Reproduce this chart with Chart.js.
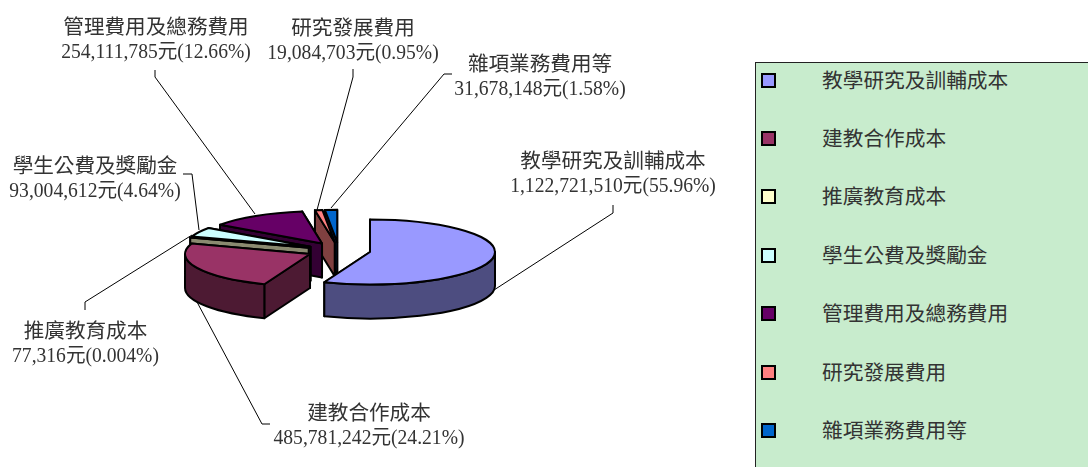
<!DOCTYPE html>
<html lang="zh-Hant">
<head>
<meta charset="utf-8">
<title>成本結構</title>
<script src="https://cdn.jsdelivr.net/npm/chart.js@4/dist/chart.umd.min.js"></script>
<style>
    html, body { margin: 0; padding: 0; background: #fff; overflow: hidden; }
    #stage { position: relative; width: 1088px; height: 467px; overflow: hidden; }
    #pie { position: absolute; left: 0; top: 0; }
    #legend {
        position: absolute; left: 755px; top: 62px; width: 400px; height: 460px;
        background: #c8eccd; border: 1px solid #222; box-sizing: border-box;
    }
    .legend-row { position: absolute; left: 0; height: 28px; line-height: 28px; white-space: nowrap; }
    .legend-box {
        position: absolute; left: 5px; top: 7px; width: 15px; height: 15px;
        border: 2px solid #000; box-sizing: border-box;
    }
    .legend-text {
        position: absolute; left: 66px; top: -2px;
        font: 20.7px "Noto Sans CJK TC", sans-serif; color: #333;
    }
</style>
</head>
<body>
<div id="stage">
    <canvas id="pie" width="1088" height="467"></canvas>
    <div id="legend"></div>
</div>
<script>
const categories = ['教學研究及訓輔成本', '建教合作成本', '推廣教育成本', '學生公費及獎勵金', '管理費用及總務費用', '研究發展費用', '雜項業務費用等'];
const amounts = [1122721510, 485781242, 77316, 93004612, 254111785, 19084703, 31678148];
const amountLabels = ['1,122,721,510元(55.96%)', '485,781,242元(24.21%)', '77,316元(0.004%)', '93,004,612元(4.64%)', '254,111,785元(12.66%)', '19,084,703元(0.95%)', '31,678,148元(1.58%)'];
const topColors = ['#9999ff', '#993366', '#ffffcc', '#ccffff', '#660066', '#ff8080', '#0066cc'];
const wallColors = ['#4d4d80', '#4d1a33', '#8a8a70', '#668080', '#330033', '#804040', '#003366'];

// Where each label sits and how its leader runs to the slice
const labelCenters = [[613, 160], [369, 412], [85.5, 330], [95, 165], [156, 26], [353, 27], [540, 63]];
const leaders = [
    [[494, 290], [613, 213], [613, 205]],
    [[197, 302], [262, 424], [270, 424]],
    [[192, 235], [85, 302], [85, 310]],
    [[183, 174], [192, 174], [199, 230]],
    [[155, 70], [155, 77], [255, 214]],
    [[353, 69], [353, 77], [317, 210]],
    [[452, 74], [444, 74], [331, 208]]
];

const TILT = 0.26;
const DEPTH = 34;

function drawSlice(ctx, arc, top, wall, centerY) {
    const { startAngle, endAngle, outerRadius, x, y } = arc;
    const mid = (startAngle + endAngle) / 2;
    const pull = arc.options.offset / 4;
    const ax = x + Math.cos(mid) * pull;
    const ay = centerY + Math.sin(mid) * pull * TILT;
    const ry = outerRadius * TILT;
    const rimX = a => ax + Math.cos(a) * outerRadius;
    const rimY = a => ay + Math.sin(a) * ry;

    const finish = (fill) => {
        ctx.closePath();
        ctx.fillStyle = fill;
        ctx.fill();
        ctx.stroke();
    };

    // The two cut faces first, the rim and top cover what should not show
    [endAngle, startAngle].forEach(a => {
        ctx.beginPath();
        ctx.moveTo(ax, ay);
        ctx.lineTo(rimX(a), rimY(a));
        ctx.lineTo(rimX(a), rimY(a) + DEPTH);
        ctx.lineTo(ax, ay + DEPTH);
        finish(wall);
    });

    // Outer wall, only the front half of the ellipse
    const a0 = Math.max(startAngle, 0);
    const a1 = Math.min(endAngle, Math.PI);
    if (a1 > a0) {
        ctx.beginPath();
        ctx.ellipse(ax, ay, outerRadius, ry, 0, a0, a1);
        ctx.ellipse(ax, ay + DEPTH, outerRadius, ry, 0, a1, a0, true);
        finish(wall);
    }

    ctx.beginPath();
    ctx.moveTo(ax, ay);
    ctx.ellipse(ax, ay, outerRadius, ry, 0, startAngle, endAngle);
    finish(top);
}

const pie3d = {
    id: 'pie3d',
    beforeDatasetsDraw(chart) {
        const ctx = chart.ctx;
        const arcs = chart.getDatasetMeta(0).data;

        ctx.save();
        // Leaders go under the slices
        ctx.strokeStyle = '#000';
        ctx.lineWidth = 1;
        leaders.forEach(pts => {
            ctx.beginPath();
            pts.forEach((p, i) => i ? ctx.lineTo(p[0], p[1]) : ctx.moveTo(p[0], p[1]));
            ctx.stroke();
        });

        // Back to front: last slice first
        ctx.lineWidth = 2;
        ctx.lineJoin = 'round';
        for (let i = arcs.length - 1; i >= 0; i--) {
            drawSlice(ctx, arcs[i], topColors[i], wallColors[i], arcs[i].y);
        }

        ctx.fillStyle = '#333';
        ctx.textAlign = 'center';
        ctx.textBaseline = 'middle';
        categories.forEach((name, i) => {
            const [cx, cy] = labelCenters[i];
            ctx.font = '20.6px "Noto Sans CJK TC", sans-serif';
            ctx.fillText(name, cx, cy);
            // Amounts are a bit narrow in the reference, squeeze them
            ctx.save();
            ctx.translate(cx, cy + 27);
            ctx.scale(0.947, 1);
            ctx.font = '20.7px "Liberation Serif", "Noto Sans CJK TC", serif';
            ctx.fillText(amountLabels[i], 0, 0);
            ctx.restore();
        });
        ctx.restore();

        // Already drawn by hand, skip the flat pie
        return false;
    }
};

new Chart(document.getElementById('pie'), {
    type: 'pie',
    data: {
        labels: categories,
        datasets: [{
            data: amounts,
            backgroundColor: topColors,
            offset: 127,
            radius: 125
        }]
    },
    options: {
        responsive: false,
        animation: false,
        layout: { padding: { top: 34, right: 410.4 } },
        plugins: {
            legend: { display: false },
            tooltip: { enabled: false }
        }
    },
    plugins: [pie3d]
});

// Legend is plain HTML
const legend = document.getElementById('legend');
categories.forEach((name, i) => {
    const row = document.createElement('div');
    row.className = 'legend-row';
    row.style.top = `${2.5 + i * 58.4}px`;
    row.innerHTML = `<span class="legend-box" style="background:${topColors[i]}"></span><span class="legend-text">${name}</span>`;
    legend.appendChild(row);
});
</script>
</body>
</html>
